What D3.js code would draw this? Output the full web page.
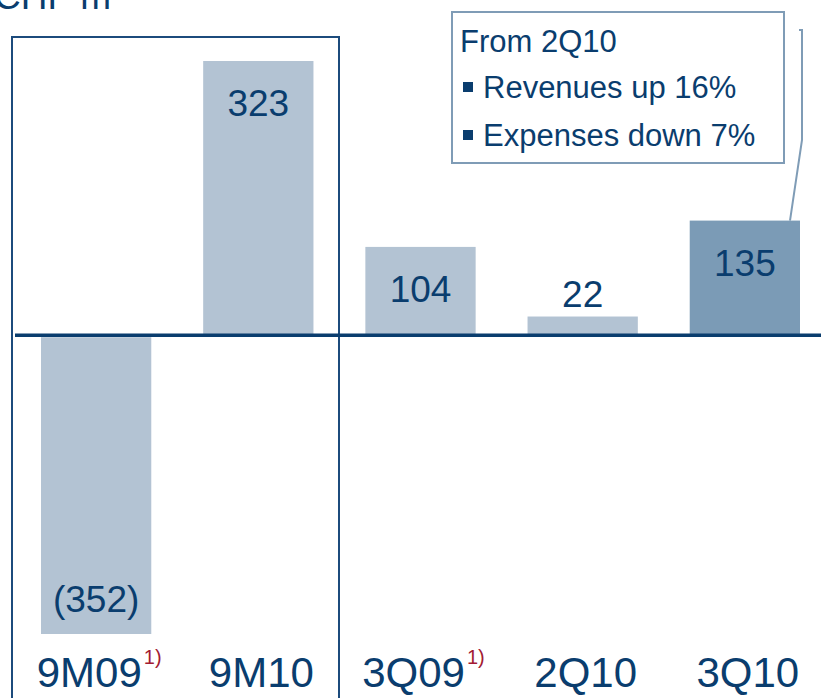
<!DOCTYPE html>
<html>
<head>
<meta charset="utf-8">
<script src="https://cdn.jsdelivr.net/npm/d3@7"></script>
<style>
  body { margin: 0; background: #fff; }
  text { font-family: "Liberation Sans", Arial, sans-serif; }
</style>
</head>
<body>
<div id="chart"></div>
<script>
// data
const categories = ["9M09", "9M10", "3Q09", "2Q10", "3Q10"]
const values = [-352, 323, 104, 22, 135]
const footnotes = ["1)", "", "1)", "", ""]
const labels = ["(352)", "323", "104", "22", "135"]
const calloutLines = ["Revenues up 16%", "Expenses down 7%"]

const width = 821, height = 698
const navy = "#0a3d6e"

const svg = d3.select("#chart")
  .append("svg")
    .attr("width", width)
    .attr("height", height)

// scales
const x = d3.scaleBand()
  .domain(categories)
  .range([41, 800])
  .paddingInner(0.32)
  .paddingOuter(0)

const y = d3.scaleLinear()
  .domain([-352, 323])
  .range([634, 61])

// unit title, cut at the top edge like the original slide
svg.append("text")
  .attr("x", -6)
  .attr("y", 9)
  .attr("font-size", 37)
  .attr("fill", navy)
  .text("CHF m")

// frame around the nine-month bars
svg.append("path")
  .attr("d", `M12,${height + 5} V37 H339 V${height + 5}`)
  .attr("fill", "none")
  .attr("stroke", "#1c4b7c")
  .attr("stroke-width", 2)

// bars
svg.selectAll("rect.bar")
  .data(values)
  .join("rect")
    .attr("class", "bar")
    .attr("x", (d, i) => x(categories[i]))
    .attr("y", d => d >= 0 ? y(d) : y(0) + 2)
    .attr("width", x.bandwidth())
    .attr("height", d => Math.abs(y(d) - y(0)) - (d >= 0 ? 0 : 2))
    .attr("fill", (d, i) => i == 4 ? "#7b9bb6" : "#b3c3d3")

// zero line
svg.append("line")
  .attr("x1", 15)
  .attr("x2", width)
  .attr("y1", y(0))
  .attr("y2", y(0))
  .attr("stroke", navy)
  .attr("stroke-width", 3.5)

// value labels
svg.selectAll("text.val")
  .data(values)
  .join("text")
    .attr("class", "val")
    .attr("x", (d, i) => x(categories[i]) + x.bandwidth() / 2)
    .attr("y", d => {
      if (d < 0) return y(d) - 22
      if (y(0) - y(d) < 60) return y(d) - 10
      return y(d) + 55
    })
    .attr("text-anchor", "middle")
    .attr("font-size", 37)
    .attr("fill", navy)
    .text((d, i) => labels[i])

// category labels
const cat = svg.selectAll("text.cat")
  .data(categories)
  .join("text")
    .attr("class", "cat")
    .attr("x", d => x(d) + x.bandwidth() / 2 + 3)
    .attr("y", 687)
    .attr("text-anchor", "middle")
    .attr("font-size", 42)
    .attr("fill", navy)

cat.append("tspan").text(d => d)
cat.append("tspan")
  .attr("dy", -23)
  .attr("dx", 2)
  .attr("font-size", 20)
  .attr("fill", "#a31b32")
  .text((d, i) => footnotes[i])

// callout box
const box = svg.append("g")
box.append("rect")
  .attr("x", 452)
  .attr("y", 12)
  .attr("width", 332)
  .attr("height", 151)
  .attr("fill", "#fff")
  .attr("stroke", "#7f9cb6")
  .attr("stroke-width", 2)

box.append("text")
  .attr("x", 460)
  .attr("y", 52)
  .attr("font-size", 31)
  .attr("fill", navy)
  .text("From 2Q10")

calloutLines.forEach((t, i) => {
  box.append("rect")
    .attr("x", 463)
    .attr("y", 82 + i * 48)
    .attr("width", 10)
    .attr("height", 10)
    .attr("fill", navy)
  box.append("text")
    .attr("x", 483)
    .attr("y", 98 + i * 48)
    .attr("font-size", 31)
    .attr("fill", navy)
    .text(t)
})

// connector from callout to 3Q10 bar
const barTop = y(values[4])
svg.append("path")
  .attr("d", `M799,30 H802 V140 L790,${barTop}`)
  .attr("fill", "none")
  .attr("stroke", "#7f9cb6")
  .attr("stroke-width", 2)
</script>
</body>
</html>
